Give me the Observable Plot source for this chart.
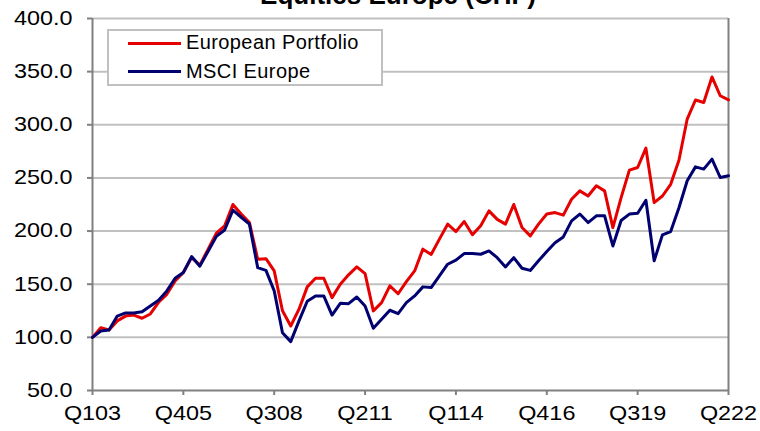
<!DOCTYPE html>
<html>
<head>
<meta charset="utf-8">
<script src="https://cdn.jsdelivr.net/npm/d3@7"></script>
<script src="https://cdn.jsdelivr.net/npm/@observablehq/plot@0.6"></script>
<style>
  html, body { margin: 0; padding: 0; background: #fff; }
  #wrap { position: relative; width: 760px; height: 431px; overflow: hidden; font-family: "Liberation Sans", Arial, sans-serif; }
  #chart { position: absolute; left: 0; top: 0; }
  #title { position: absolute; left: 18px; top: -18px; width: 760px; text-align: center; font-weight: bold; font-size: 26px; line-height: 26px; color: #000; white-space: nowrap; }
  #legendBox { position: absolute; left: 107px; top: 29px; width: 272px; height: 53px; border: 2px solid #c0c0c0; background: #fff; }
  .lg-line { position: absolute; left: 128px; width: 53px; height: 3px; }
  .lg-text { position: absolute; left: 186px; font-size: 20px; line-height: 20px; letter-spacing: 0.4px; color: #000; white-space: nowrap; }
</style>
</head>
<body>
<div id="wrap">
  <div id="chart"></div>
  <div id="title"></div>
  <div id="legendBox"></div>
  <div class="lg-line" id="lgLine0" style="top:41.5px"></div>
  <div class="lg-text" id="lgText0" style="top:32px"></div>
  <div class="lg-line" id="lgLine1" style="top:69.5px"></div>
  <div class="lg-text" id="lgText1" style="top:61px"></div>
</div>
<script>
const title = "Equities Europe (CHF)";
const seriesNames = ["European Portfolio", "MSCI Europe"];
const seriesColors = ["#e60000", "#000070"];

const quarters = [
  "Q103","Q203","Q303","Q403","Q104","Q204","Q304","Q404","Q105","Q205","Q305","Q405",
  "Q106","Q206","Q306","Q406","Q107","Q207","Q307","Q407","Q108","Q208","Q308","Q408",
  "Q109","Q209","Q309","Q409","Q110","Q210","Q310","Q410","Q111","Q211","Q311","Q411",
  "Q112","Q212","Q312","Q412","Q113","Q213","Q313","Q413","Q114","Q214","Q314","Q414",
  "Q115","Q215","Q315","Q415","Q116","Q216","Q316","Q416","Q117","Q217","Q317","Q417",
  "Q118","Q218","Q318","Q418","Q119","Q219","Q319","Q419","Q120","Q220","Q320","Q420",
  "Q121","Q221","Q321","Q421","Q122","Q222"
];

const tickLabels = ["Q103","Q405","Q308","Q211","Q114","Q416","Q319","Q222"];
const yTicks = [50, 100, 150, 200, 250, 300, 350, 400];

const european = [
  100, 109, 107, 115.5, 120, 121, 118, 122, 133, 140.5, 153, 161,
  175, 168, 183, 198, 205, 225, 216, 208, 173.5, 174, 162.5, 125,
  110.7, 126.5, 147.5, 155.6, 155.6, 137.4, 150, 158.8, 166.3, 160, 124.9, 132.7,
  148.4, 141, 152.4, 162.5, 183, 178, 192.4, 206.5, 199.5, 209, 196.5, 205,
  219, 211, 206.5, 225, 203.3, 195.5, 206.5, 216, 217.4, 215, 230, 237.8,
  233, 242.6, 237.8, 203.3, 231.5, 257.3, 259.8, 278, 226.8, 233, 244, 266.7,
  305.4, 323.3, 321, 345, 327.3, 323.5
];

const msci = [
  100, 106, 107, 120, 123, 123, 124, 129.5, 135, 143.7, 155.6, 161,
  176, 167, 181, 195, 201, 219.7, 213, 206.5, 165.6, 163, 143.7, 104.4,
  96, 115.5, 134, 139, 139, 121, 132, 131.7, 138, 129.6, 108.5, 117,
  125.5, 122.3, 132.7, 139, 147.5, 146.8, 157.8, 168.8, 172.6, 178.8, 178.8, 178.2,
  181.3, 175, 166.3, 175, 165, 163, 172, 180.7, 189, 194.5, 209.6, 216,
  208, 214.3, 214.3, 186, 210, 216, 216.8, 229, 172, 196.4, 199.5, 222,
  247.3, 260.4, 258.3, 267.7, 250.4, 252
];

const rowsEuropean = quarters.map((q, i) => ({i, q, v: european[i]}));
const rowsMsci = quarters.map((q, i) => ({i, q, v: msci[i]}));
const xTickIdx = tickLabels.map(l => quarters.indexOf(l));
const lastIdx = quarters.length - 1;

const chart = Plot.plot({
  width: 760,
  height: 431,
  marginLeft: 92,
  marginRight: 32,
  marginTop: 18,
  marginBottom: 41,
  style: {fontFamily: "'Liberation Sans', Arial, sans-serif", fontSize: "20px", color: "#000", background: "transparent", overflow: "visible"},
  x: {domain: [0, lastIdx], axis: null},
  y: {domain: [yTicks[0], yTicks[yTicks.length - 1]], axis: null},
  marks: [
    Plot.ruleY(yTicks.filter(v => v > yTicks[0]), {stroke: "#c0c0c0", strokeWidth: 2}),
    Plot.ruleX([0, lastIdx], {stroke: "#808080", strokeWidth: 2}),
    Plot.ruleY([yTicks[0]], {stroke: "#808080", strokeWidth: 2}),
    Plot.axisY(yTicks, {tickFormat: d => d.toFixed(1), tickSize: 5, tickPadding: 15, stroke: "#808080", strokeWidth: 2, fill: "#000", label: null}),
    Plot.axisX(xTickIdx, {tickFormat: i => quarters[i], tickSize: 5, tickPadding: 10, stroke: "#808080", strokeWidth: 2, fill: "#000", label: null}),
    Plot.line(rowsEuropean, {x: "i", y: "v", stroke: seriesColors[0], strokeWidth: 3}),
    Plot.line(rowsMsci, {x: "i", y: "v", stroke: seriesColors[1], strokeWidth: 3})
  ]
});

// stretch tick labels horizontally to match the reference's wide lettering
chart.querySelectorAll('g[aria-label$="tick label"] text').forEach(t => {
  let tr = t.getAttribute("transform");
  if (!tr) {
    const x = t.getAttribute("x") || 0, y = t.getAttribute("y") || 0;
    t.removeAttribute("x");
    t.setAttribute("y", "0");
    tr = `translate(${x},${y})`;
  }
  t.setAttribute("transform", tr + " scale(1.17,1)");
});

document.getElementById("chart").appendChild(chart);
document.getElementById("title").textContent = title;
document.getElementById("lgText0").textContent = seriesNames[0];
document.getElementById("lgText1").textContent = seriesNames[1];
document.getElementById("lgLine0").style.background = seriesColors[0];
document.getElementById("lgLine1").style.background = seriesColors[1];
</script>
</body>
</html>
